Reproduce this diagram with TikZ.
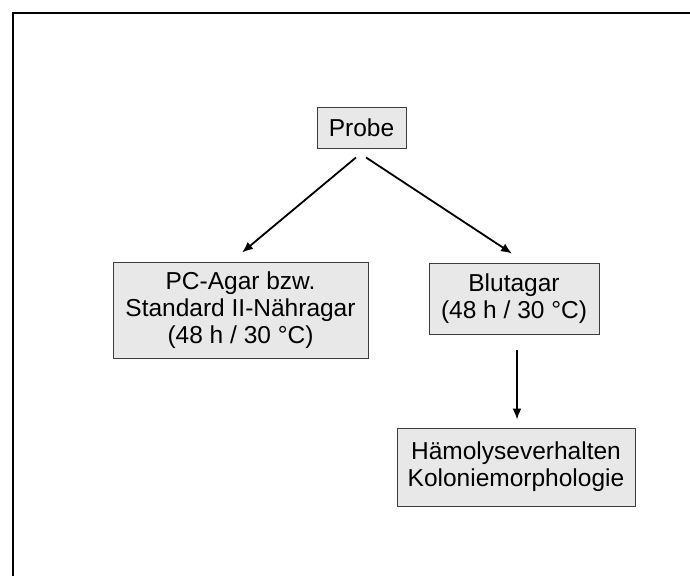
\documentclass[tikz,border=0pt]{standalone}
\usepackage{fontspec}
\setmainfont{Liberation Sans}
\usepackage{tikz}
\usetikzlibrary{arrows.meta, positioning}

\definecolor{kastenfill}{HTML}{E8E8E8}
\definecolor{kastenrand}{HTML}{3C3C3C}

\begin{document}
\begin{tikzpicture}[
        x=1pt, y=-1pt,
        every node/.style={rectangle, draw=kastenrand, line width=0.9pt, fill=kastenfill,
            align=center, inner sep=0pt, font=\fontsize{24.5}{27}\selectfont},
        pfeil/.style={-{Latex[length=11pt,width=9pt]}, line width=1.8pt, black}
    ]
        \useasboundingbox (0,0) rectangle (690,576);

        % Rahmen (oben und links)
        \draw[line width=2.5pt] (13,576) -- (13,13) -- (690,13);

        % Kaesten
        \node[minimum width=89pt, minimum height=41pt] (probe) at (361.5,127.5) {Probe};
        \node[minimum width=255pt, minimum height=96pt] (pc) at (240.5,310) {PC-Agar bzw.\\Standard II-Nähragar\\(48 h / 30 °C)};
        \node[minimum width=170pt, minimum height=71pt] (blut) at (514,298.5) {Blutagar\\(48 h / 30 °C)};
        \node[minimum width=238pt, minimum height=78pt] (haem) at (516,467) {Hämolyseverhalten\\Koloniemorphologie};

        % Pfeile
        \draw[pfeil] ([xshift=-5.5pt,yshift=-9pt]probe.south) -- ([xshift=1.5pt,yshift=9pt]pc.north);
        \draw[pfeil] ([xshift=4.5pt,yshift=-9pt]probe.south) -- ([xshift=-2pt,yshift=9pt]blut.north);
        \draw[pfeil] ([xshift=3pt,yshift=-16pt]blut.south) -- ([xshift=1pt,yshift=8pt]haem.north);
    \end{tikzpicture}
\end{document}
